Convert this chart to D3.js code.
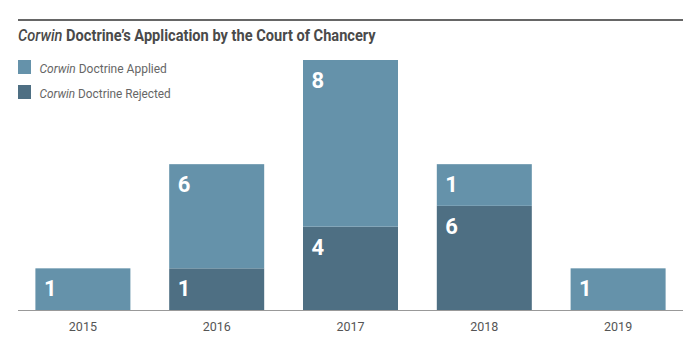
<!DOCTYPE html>
<html><head><meta charset="utf-8">
<script src="https://cdn.jsdelivr.net/npm/d3@7/dist/d3.min.js"></script>
<style>
html,body{margin:0;padding:0;background:#fff;}
svg{display:block;font-family:Roboto,"Noto Sans",sans-serif;}
</style></head>
<body>
<svg id="chart" width="700" height="350"></svg>
<script>
const years = ["2015", "2016", "2017", "2018", "2019"];
const applied = [1, 6, 8, 1, 1];
const rejected = [0, 1, 4, 6, 0];
const seriesNames = ["Doctrine Applied", "Doctrine Rejected"];
const italicPrefix = "Corwin";
const titleItalic = "Corwin";
const titleRest = " Doctrine\u2019s Application by the Court of Chancery";

(function () {
const colors = { applied: "#6592aa", rejected: "#4e6f83" };
const svg = d3.select("#chart");

// layout
const mLeft = 18, mRight = 683, base = 310, plotTop = 60;
const x = d3.scaleBand().domain(years).range([mLeft, mRight]).paddingInner(0.29).paddingOuter(0.13);

// segments: small values (1) are given a minimum visual height, as in the original figure
const minSeg = 2;
const stacks = years.map((yr, i) => {
  const vals = [{key: "rejected", v: rejected[i]}, {key: "applied", v: applied[i]}];
  const total = d3.sum(vals, d => d.v);
  const shownTotal = Math.max(total, minSeg);
  const nz = vals.filter(d => d.v > 0);
  nz.forEach(d => d.h = Math.max(d.v, minSeg));
  const largest = nz.reduce((a, b) => (b.v > a.v ? b : a));
  largest.h = shownTotal - d3.sum(nz.filter(d => d !== largest), d => d.h);
  let acc = 0;
  nz.forEach(d => { d.y0 = acc; acc += d.h; d.y1 = acc; d.year = yr; });
  return nz;
});
const maxTotal = d3.max(stacks, s => d3.max(s, d => d.y1));
const y = d3.scaleLinear().domain([0, maxTotal]).range([base, plotTop]);

// top rule
svg.append("line").attr("x1", mLeft).attr("x2", mRight).attr("y1", 20).attr("y2", 20)
  .attr("stroke", "#666").attr("stroke-width", 2);

function fitWidth(sel, target) {
  const w = sel.node().getComputedTextLength();
  const x0 = +sel.attr("x");
  sel.attr("transform", `translate(${x0},0) scale(${target / w},1) translate(${-x0},0)`);
}

// title
const title = svg.append("text").attr("x", mLeft).attr("y", 41.5)
  .attr("fill", "#4a4a4a").attr("font-size", 17).attr("font-weight", 700);
title.append("tspan").attr("font-style", "italic").attr("font-weight", 500).text(titleItalic);
title.append("tspan").text(titleRest);
fitWidth(title, 358);

// legend
const legend = svg.append("g");
[["applied", 0], ["rejected", 1]].forEach(([k, i]) => {
  const g = legend.append("g");
  g.append("rect").attr("x", 18).attr("y", 60 + i * 25).attr("width", 13).attr("height", 14)
    .attr("fill", colors[k]);
  const t = g.append("text").attr("x", 39.5).attr("y", 73.3 + i * 25)
    .attr("fill", "#666").attr("font-size", 13);
  t.append("tspan").attr("font-style", "italic").text(italicPrefix);
  t.append("tspan").text(" " + seriesNames[i]);
  fitWidth(t, i === 0 ? 127.5 : 131.5);
});

// bars
const segs = svg.append("g").selectAll("g").data(stacks.flat()).join("g");
segs.append("rect")
  .attr("x", d => x(d.year))
  .attr("width", x.bandwidth())
  .attr("y", d => y(d.y1))
  .attr("height", d => y(d.y0) - y(d.y1))
  .attr("fill", d => colors[d.key]);
segs.append("text")
  .attr("x", d => x(d.year) + 8.5)
  .attr("y", d => y(d.y1) + 28)
  .attr("fill", "#fff").attr("font-size", 22).attr("font-weight", 700)
  .text(d => d.v);

// axis
const axis = svg.append("g").attr("transform", `translate(0,${base})`)
  .call(d3.axisBottom(x).tickSize(0).tickPadding(0));
axis.select(".domain").attr("stroke", "#999").attr("stroke-width", 1.2)
  .attr("d", `M${mLeft},0.5H${mRight}`);
axis.selectAll(".tick text").attr("font-family", "Roboto, sans-serif")
  .attr("font-size", 12.5).attr("fill", "#555").attr("dy", null).attr("y", 20.7);
})();
</script>
</body></html>
